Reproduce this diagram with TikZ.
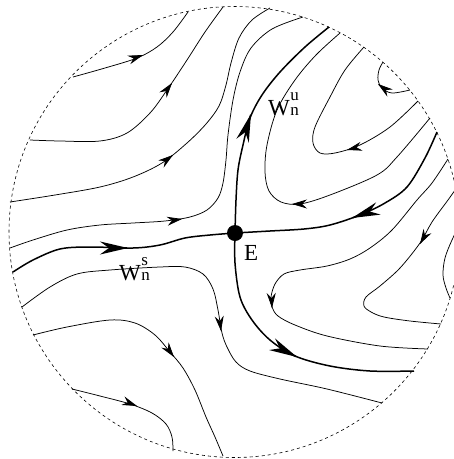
\documentclass[tikz,border=0pt]{standalone}
\usepackage{fontspec}
\setmainfont{Liberation Serif}
\usetikzlibrary{arrows.meta}
\begin{document}
\begin{tikzpicture}[x=1pt,y=-1pt,
  flow/.style={line width=0.75pt, line join=round},
  sepx/.style={line width=1.5pt, line join=round},
  tipthin/.style={line width=0.75pt, -{Stealth[length=15pt,width=9pt,inset=5pt]}},
  tipthick/.style={line width=1.5pt, -{Stealth[length=28pt,width=13pt,inset=9pt]}},
  lbl/.style={inner sep=0pt, font=\fontsize{23}{23}\selectfont},
  sm/.style={smooth, tension=0.55}]
\useasboundingbox (0,0) rectangle (454,459);
\clip (0,0) rectangle (454,459);
% boundary
\draw[dash pattern=on 3pt off 3pt, line width=0.6pt] (234.5,232) circle[radius=225.5];
\coordinate (E0) at (235,233);
% upper-left flows
\draw[flow] plot[sm] coordinates {(73,77) (105,68) (137,58) (157,47) (173,32) (188,12)};
\draw[tipthin] (142,55.35) -- (143,55);
\draw[flow] plot[sm] coordinates {(30,140) (60,141) (100,141) (127,133) (150,113) (167,90) (187,60) (205,32) (223,7)};
\draw[tipthin] (171.4,83.8) -- (172,83);
\draw[flow] plot[sm] coordinates {(10,202) (55,195) (100,187) (133,177) (162,163) (187,143) (206,124) (219,106) (226,85) (231,63) (239,38) (252,20) (270,8)};
\draw[tipthin] (172.2,155.6) -- (173,155);
\draw[flow] plot[sm] coordinates {(10,248) (33,240) (67,230) (100,225) (133,223) (165,221) (190,217) (207,210) (218,198) (223,183) (226,160) (228,135) (233,100) (240,72) (251,48) (272,29) (303,17)};
\draw[tipthin] (181,219.15) -- (182,219);
% stable manifold, left
\draw[sepx] plot[sm] coordinates {(13,272) (33,260) (60,249) (90,247) (133,248) (160,245) (185,238) (210,235) (E0)};
\draw[tipthick] (127,248) -- (128,248);
% lower-left flows
\draw[flow] plot[sm] coordinates {(22,307) (50,287) (77,274) (110,270) (160,267) (185,267) (203,274) (213,289) (218,310) (222,333) (227,347) (236,362) (250,371) (280,379) (327,389) (382,403)};
\draw[tipthin] (220.88,330) -- (221,331);
\draw[flow] plot[sm] coordinates {(33,335) (67,327) (110,320) (135,323) (155,335) (170,352) (183,368) (195,390) (206,417) (215,437) (223,456)};
\draw[tipthin] (173.4,356.2) -- (174,357);
\draw[flow] plot[sm] coordinates {(72,389) (100,396) (130,404) (152,413) (166,424) (172,437) (173,451)};
\draw[tipthin] (136.07,405.65) -- (137,406);
% unstable manifold, up
\draw[sepx] plot[sm] coordinates {(E0) (236,200) (238,170) (243,145) (250,118) (262,95) (280,72) (305,47) (329,27)};
\draw[tipthick] (250.7,114.95) -- (251,114);
% upper-right flows
\draw[flow] plot[sm] coordinates {(430,118) (397,157) (377,175) (330,195) (300,204) (281,202) (269,191) (265,172) (267,145) (277,110) (295,80) (316,55) (340,33)};
\draw[tipthin] (293,204) -- (292,204);
\draw[flow] plot[sm] coordinates {(418,101) (390,127) (360,145) (335,153) (320,153) (313,143) (315,127) (330,97) (345,70) (364,47)};
\draw[tipthin] (347.97,149.75) -- (347,150);
\draw[flow] plot[sm] coordinates {(410,90) (392,93) (382,88) (378,80) (379,70) (383,62)};
\draw[tipthin] (378.8,84.6) -- (378,84);
% stable manifold, right
\draw[sepx] plot[sm] coordinates {(437,132) (425,158) (407,187) (385,203) (360,215) (330,225) (304,229) (270,231) (E0)};
\draw[tipthick] (352.94,217.66) -- (352,218);
% lower-right flows
\draw[flow] plot[sm] coordinates {(448,159) (432,183) (417,200) (392,230) (370,248) (350,259) (327,266) (300,270) (284,274) (275,284) (271,297) (272,307) (278,316) (295,325) (327,336) (380,346) (428,349)};
\draw[tipthin] (271.95,307) -- (272,308);
\draw[flow] plot[sm] coordinates {(458,186) (448,200) (432,222) (420,243) (400,268) (380,286) (366,297) (364,306) (371,312) (384,317) (410,321) (441,324)};
\draw[tipthin] (420.5,243.13) -- (420,244);
\draw[flow] plot[sm] coordinates {(462,220) (452,240) (445,258) (443,275) (446,288) (450,298)};
% unstable manifold, down
\draw[sepx] plot[sm] coordinates {(E0) (235,263) (240,297) (252,320) (270,340) (295,356) (330,366) (370,371) (414,371)};
\draw[tipthick] (296.12,356.55) -- (297,357);
% equilibrium
\node[circle, fill=black, inner sep=0pt, minimum size=16pt] (E) at (E0) {};
\node[lbl, anchor=base west] (Elbl) at (244,260) {E};
\node[lbl, anchor=base west] (Wu) at (268,115) {W\kern0.5pt{\fontsize{17}{17}\selectfont\rlap{\raisebox{15pt}{u}}n}};
\node[lbl, anchor=base west] (Ws) at (119,280) {W\kern0.5pt{\fontsize{17}{17}\selectfont\rlap{\raisebox{15pt}{s}}n}};
\end{tikzpicture}
\end{document}
